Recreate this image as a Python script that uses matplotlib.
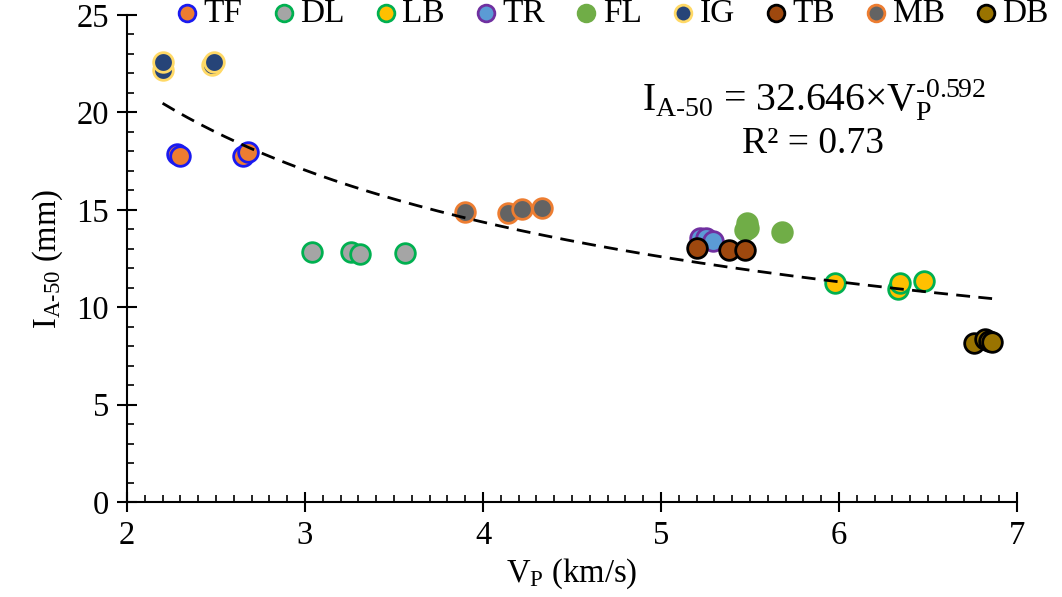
import matplotlib
matplotlib.use("Agg")
import matplotlib.pyplot as plt
import numpy as np
from matplotlib.ticker import MultipleLocator

plt.rcParams['font.family'] = ['Liberation Serif', 'DejaVu Serif']
plt.rcParams['mathtext.fontset'] = 'stix'

# Data (Vp in km/s, I_A-50 in mm)
groups = ['TF', 'DL', 'LB', 'TR', 'FL', 'IG', 'TB', 'MB', 'DB']
vp = {
    'TF': [2.28, 2.30, 2.65, 2.68],
    'DL': [3.04, 3.26, 3.31, 3.56],
    'LB': [5.98, 6.33, 6.34, 6.48],
    'TR': [5.22, 5.25, 5.29],
    'FL': [5.47, 5.485, 5.49, 5.68],
    'IG': [2.20, 2.20, 2.48, 2.49],
    'TB': [5.20, 5.38, 5.47],
    'MB': [3.90, 4.14, 4.22, 4.33],
    'DB': [6.76, 6.82, 6.84, 6.86],
}
ia50 = {
    'TF': [17.85, 17.75, 17.75, 17.95],
    'DL': [12.82, 12.82, 12.72, 12.77],
    'LB': [11.23, 10.92, 11.26, 11.34],
    'TR': [13.54, 13.57, 13.41],
    'FL': [13.96, 14.31, 14.05, 13.88],
    'IG': [22.18, 22.60, 22.45, 22.60],
    'TB': [13.02, 12.94, 12.94],
    'MB': [14.90, 14.85, 15.04, 15.11],
    'DB': [8.18, 8.35, 8.28, 8.23],
}
fill = {'TF': '#ED7D31', 'DL': '#A5A5A5', 'LB': '#FFC000', 'TR': '#5B9BD5', 'FL': '#70AD47',
        'IG': '#264478', 'TB': '#9E480E', 'MB': '#636363', 'DB': '#997300'}
edge = {'TF': '#1A1AF0', 'DL': '#00B050', 'LB': '#00B050', 'TR': '#7030A0', 'FL': '#70AD47',
        'IG': '#FFD966', 'TB': '#000000', 'MB': '#ED7D31', 'DB': '#000000'}

# power fit I = a * Vp^b
a, b = 32.646, -0.592
fit_x = np.linspace(2.2, 6.86, 200)

fig = plt.figure(figsize=(10.62, 5.97), dpi=100)
ax = fig.add_axes([127 / 1062, 1 - 502 / 597, (1017 - 127) / 1062, (502 - 15) / 597])

for g in groups:
    ax.scatter(vp[g], ia50[g], s=200, c=fill[g], edgecolors=edge[g], linewidths=2.0,
               zorder=3, label=g)

ax.plot(fit_x, a * fit_x ** b, color='black', ls=(0, (5, 3)), lw=2, zorder=4)

ax.text(814 / 1062, 1 - 100 / 597,
        r'$\mathregular{I_{A\text{-}50}}$ = 32.646×$\mathregular{V_P^{\text{-}0.592}}$',
        transform=fig.transFigure, ha='center', va='center', fontsize=28.5)
ax.text(813 / 1062, 1 - 144 / 597, 'R² = 0.73', transform=fig.transFigure,
        ha='center', va='center', fontsize=27)

ax.set_xlim(2, 7)
ax.set_ylim(0, 25)
ax.xaxis.set_major_locator(MultipleLocator(1))
ax.xaxis.set_minor_locator(MultipleLocator(0.1))
ax.yaxis.set_major_locator(MultipleLocator(5))
ax.yaxis.set_minor_locator(MultipleLocator(1))
ax.tick_params(which='major', direction='inout', length=14, width=1.5, labelsize=23.5, pad=6)
ax.tick_params(which='minor', direction='in', length=5, width=1.2)
for s in ['top', 'right']:
    ax.spines[s].set_visible(False)
for s in ['left', 'bottom']:
    ax.spines[s].set_linewidth(1.5)

ax.set_xlabel(r'$\mathregular{V_P}$ (km/s)', fontsize=23.5, labelpad=4)
ax.set_ylabel(r'$\mathregular{I_{A\text{-}50}}$ (mm)', fontsize=23.5, labelpad=8)

fig.legend(loc='upper left', bbox_to_anchor=(177 / 1062, 1 + 1.5 / 597), ncol=9, frameon=False,
           fontsize=24, borderpad=0, borderaxespad=0, handlelength=0.6, handletextpad=0.2,
           columnspacing=0.93, markerscale=0.85, scatterpoints=1)

fig.savefig('out.png', dpi=100)
